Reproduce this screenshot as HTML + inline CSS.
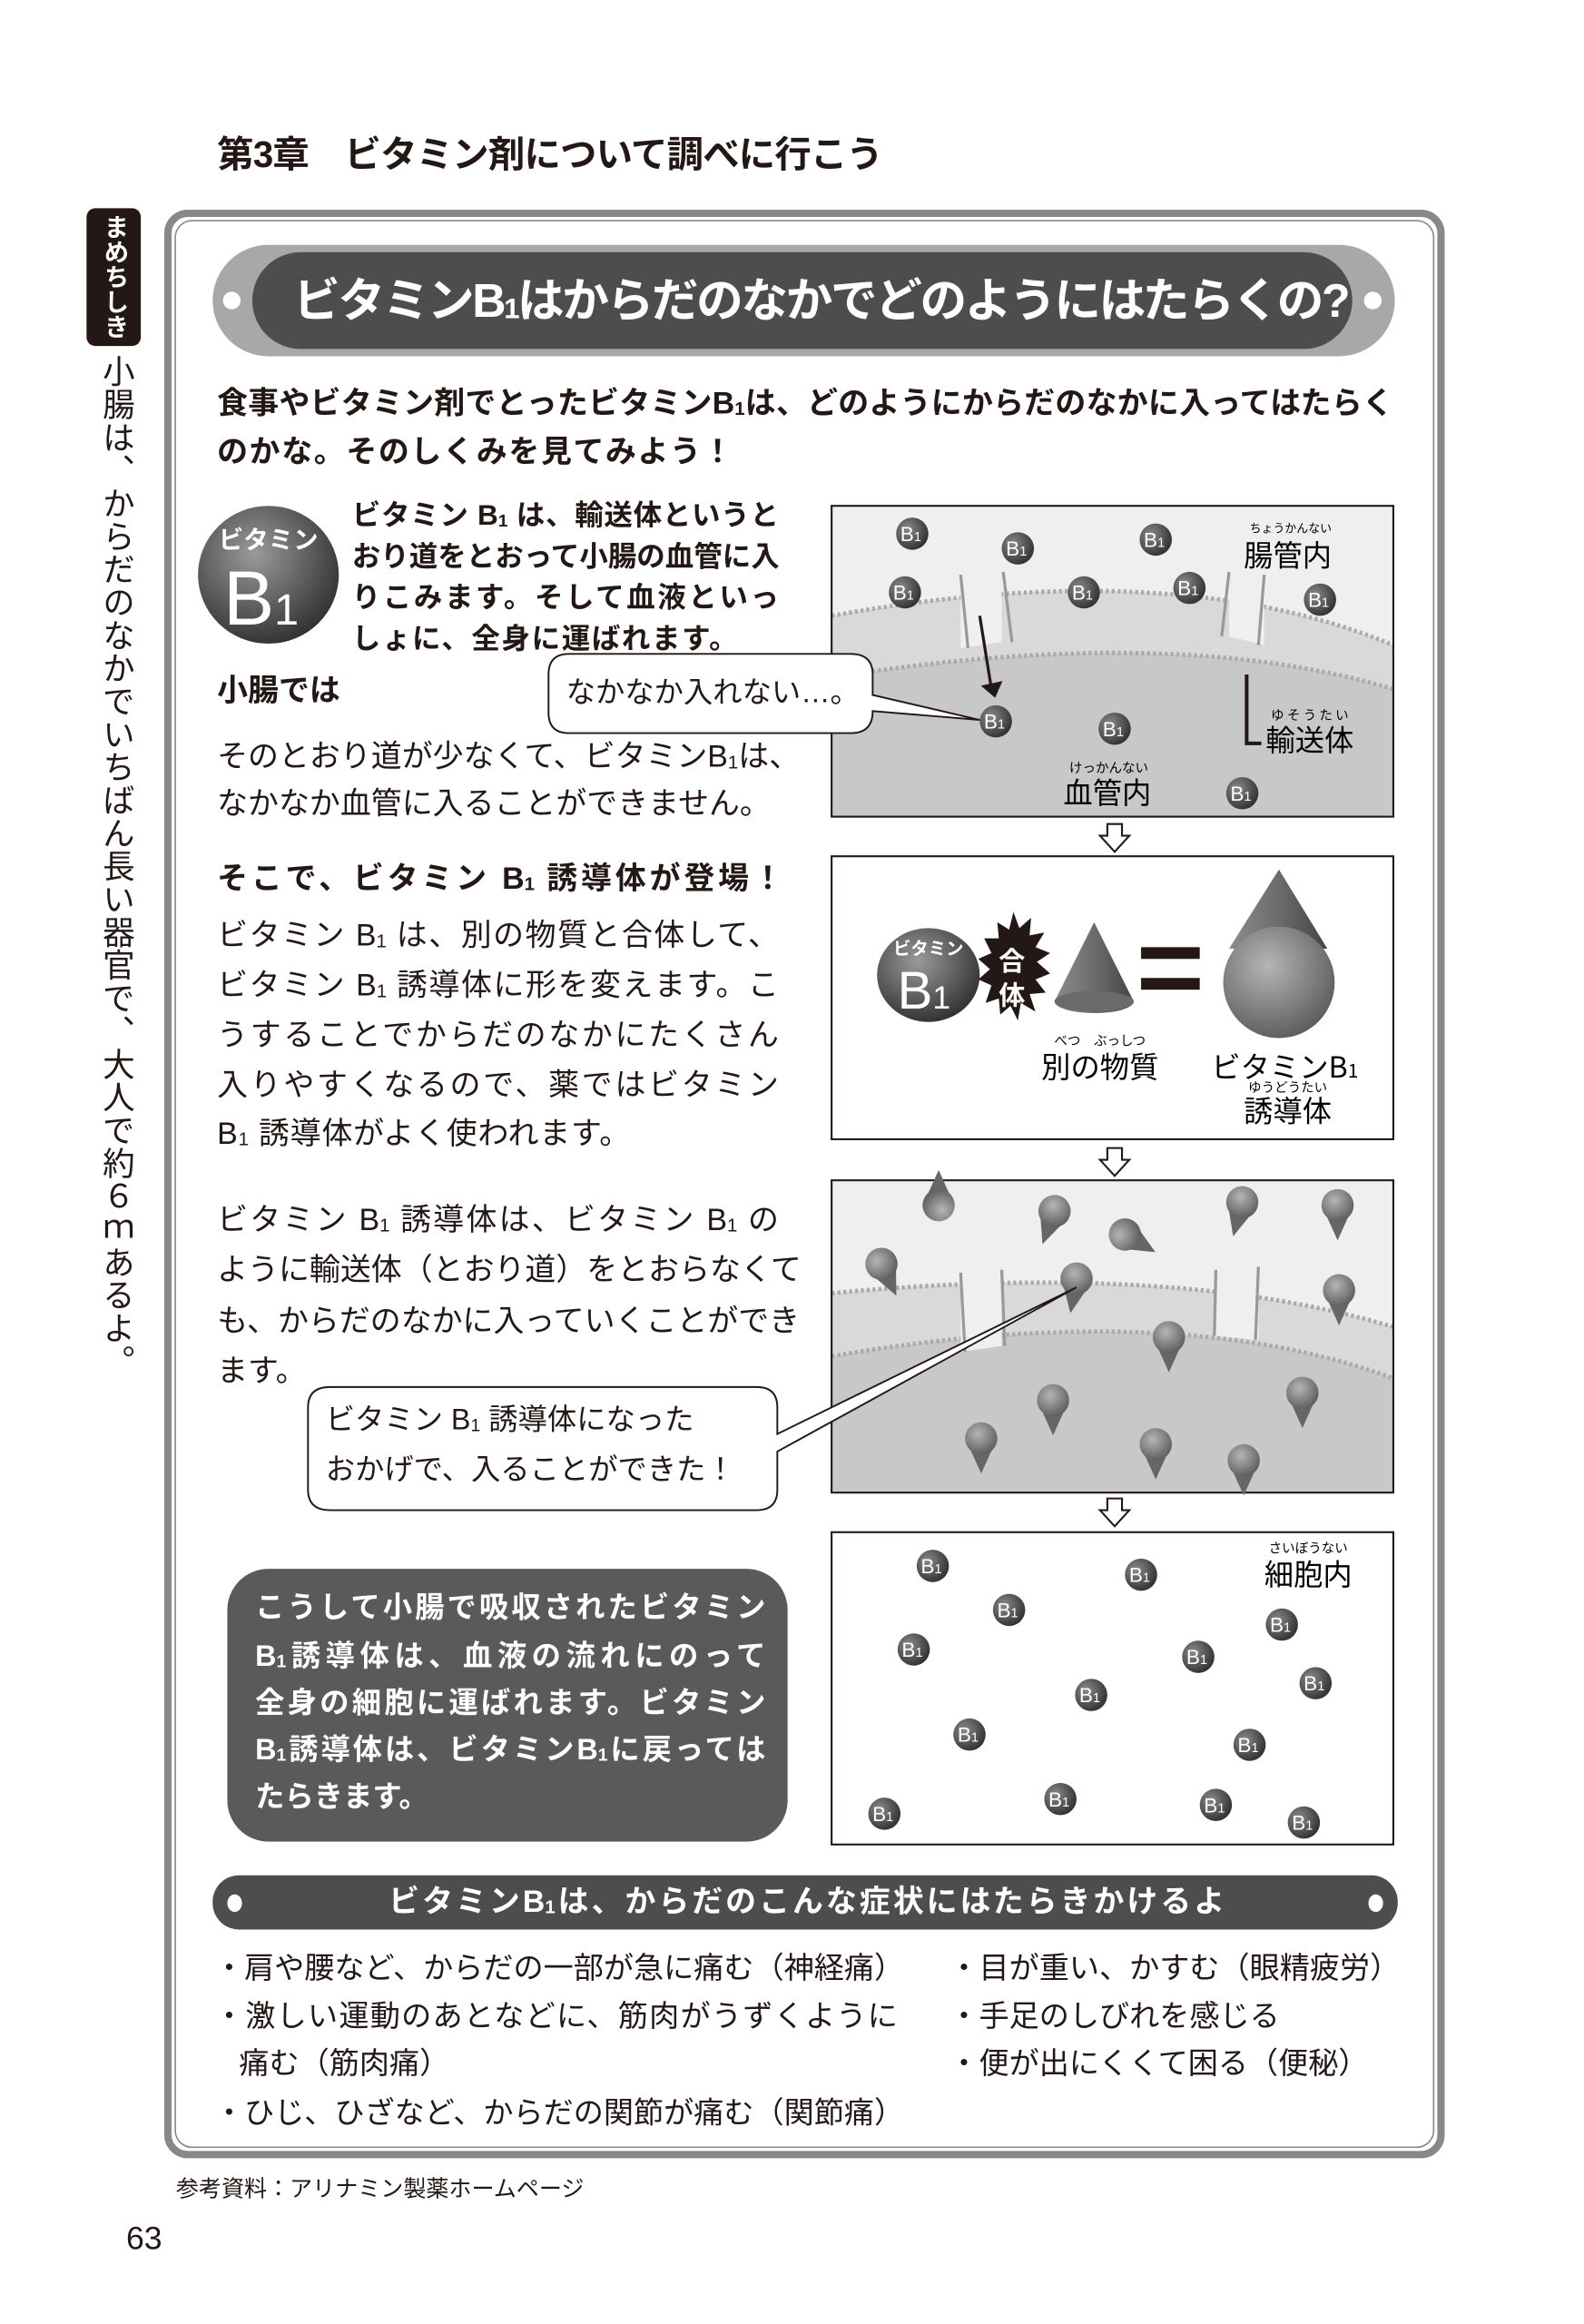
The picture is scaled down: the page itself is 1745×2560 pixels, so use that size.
<!DOCTYPE html>
<html><head><meta charset="utf-8">
<style>
html,body{margin:0;padding:0;background:#fff;}
body{width:1745px;height:2560px;overflow:hidden;position:relative;}
#s{position:absolute;left:0;top:0;width:1080px;height:1585px;transform:scale(1.61574,1.6151);transform-origin:0 0;font-family:"Liberation Sans","Noto Sans CJK JP",sans-serif;color:#231815;}
.a{position:absolute;white-space:nowrap;}
.j{text-align:justify;text-align-last:justify;white-space:nowrap;overflow:visible;}
.b{font-weight:bold;}
.r{font-size:21px;line-height:34px;}
.w{color:#fff;}
sub{font-size:60%;vertical-align:-1px;}
</style></head><body><div id="s">

<!-- header -->
<div class="a b" style="left:148px;top:88px;font-size:25px;line-height:36px;letter-spacing:-0.5px;">第3章　ビタミン剤について調べに行こう</div>

<!-- side tab -->
<div class="a" style="left:59px;top:142px;width:37px;height:94px;background:#231815;border-radius:6px;"></div>
<div class="a w b" style="left:59px;top:146px;width:37px;height:88px;writing-mode:vertical-rl;font-size:17px;line-height:37px;letter-spacing:0px;">まめちしき</div>
<div class="a" style="left:62px;top:242px;width:34px;writing-mode:vertical-rl;font-size:22px;line-height:34px;letter-spacing:0.5px;">小腸は、からだのなかでいちばん長い器官で、大人で約６ｍあるよ。</div>

<!-- main box -->
<div class="a" style="left:112px;top:143px;width:873px;height:1329px;border:5px solid #888;border-radius:16px;box-sizing:border-box;"></div>
<div class="a" style="left:119px;top:150px;width:859px;height:1315px;border:1.5px solid #888;border-radius:12px;box-sizing:border-box;"></div>

<!-- title pill -->
<div class="a" style="left:145px;top:167px;width:806px;height:76px;background:#a8a8a8;border-radius:38px;"></div>
<div class="a" style="left:172px;top:172px;width:750px;height:66px;background:#4d4d4d;border-radius:33px;"></div>
<div class="a" style="left:152px;top:199px;width:12px;height:12px;background:#fff;border-radius:50%;"></div>
<div class="a" style="left:930px;top:199px;width:12px;height:12px;background:#fff;border-radius:50%;"></div>
<div class="a w b" style="left:200px;top:182px;width:698px;font-size:32px;line-height:46px;letter-spacing:-1.5px;text-align:center;">ビタミンB<sub>1</sub>はからだのなかでどのようにはたらくの?</div>

<!-- intro -->
<div class="a b j" style="left:148px;top:259px;width:802px;font-size:21px;line-height:34px;">食事やビタミン剤でとったビタミンB<sub>1</sub>は、どのようにからだのなかに入ってはたらく</div>
<div class="a b" style="left:148px;top:292px;font-size:21px;line-height:34px;letter-spacing:1px;">のかな。そのしくみを見てみよう！</div>

<!-- B1 icon -->
<svg class="a" style="left:130px;top:340px" width="110" height="105">
<defs>
<radialGradient id="bg" cx="0.4" cy="0.35" r="0.7"><stop offset="0" stop-color="#9a9a9a"/><stop offset="1" stop-color="#2e2e2e"/></radialGradient>
</defs>
<ellipse cx="53" cy="52" rx="48" ry="47" fill="url(#bg)"/>
<text x="53" y="34" font-size="17" font-weight="bold" fill="#fff" text-anchor="middle" font-family="Liberation Sans,Noto Sans CJK JP,sans-serif">ビタミン</text>
<text x="48" y="86" font-size="52" fill="#fff" text-anchor="middle" font-family="Liberation Sans,sans-serif">B<tspan font-size="30">1</tspan></text>
</svg>
<div class="a b j" style="left:240px;top:335px;width:291px;font-size:19.5px;line-height:34px;">ビタミン B<sub>1</sub> は、輸送体というと</div>
<div class="a b j" style="left:240px;top:363px;width:291px;font-size:19.5px;line-height:34px;">おり道をとおって小腸の血管に入</div>
<div class="a b j" style="left:240px;top:391px;width:291px;font-size:19.5px;line-height:34px;">りこみます。そして血液といっ</div>
<div class="a b" style="left:240px;top:419px;font-size:19.5px;line-height:34px;letter-spacing:1px;">しょに、全身に運ばれます。</div>

<div class="a b" style="left:148px;top:455px;font-size:21px;line-height:34px;">小腸では</div>
<div class="a r j" style="left:148px;top:500px;width:382px;">そのとおり道が少なくて、ビタミンB<sub>1</sub>は、</div>
<div class="a r j" style="left:148px;top:532px;width:376px;">なかなか血管に入ることができません。</div>

<div class="a b j" style="left:148px;top:583px;width:386px;font-size:21px;line-height:34px;">そこで、ビタミン B<sub>1</sub> 誘導体が登場！</div>
<div class="a r j" style="left:148px;top:622px;width:383px;">ビタミン B<sub>1</sub> は、別の物質と合体して、</div>
<div class="a r j" style="left:148px;top:656px;width:383px;">ビタミン B<sub>1</sub> 誘導体に形を変えます。こ</div>
<div class="a r j" style="left:148px;top:690px;width:383px;">うすることでからだのなかにたくさん</div>
<div class="a r j" style="left:148px;top:724px;width:383px;">入りやすくなるので、薬ではビタミン</div>
<div class="a r" style="left:148px;top:757px;letter-spacing:0.5px;">B<sub>1</sub> 誘導体がよく使われます。</div>

<div class="a r j" style="left:148px;top:816px;width:383px;">ビタミン B<sub>1</sub> 誘導体は、ビタミン B<sub>1</sub> の</div>
<div class="a r j" style="left:148px;top:850px;width:383px;">ように輸送体（とおり道）をとおらなくて</div>
<div class="a r j" style="left:148px;top:885px;width:383px;">も、からだのなかに入っていくことができ</div>
<div class="a r" style="left:148px;top:919px;">ます。</div>

<!-- panels svg -->
<svg class="a" style="left:0;top:0" width="1080" height="1585">
<defs>
<radialGradient id="sb" cx="0.35" cy="0.35" r="0.75"><stop offset="0" stop-color="#8a8a8a"/><stop offset="1" stop-color="#2a2a2a"/></radialGradient>
<radialGradient id="dg" cx="0.4" cy="0.35" r="0.7"><stop offset="0" stop-color="#b5b5b5"/><stop offset="1" stop-color="#5a5a5a"/></radialGradient>
<linearGradient id="cg" x1="0" x2="1"><stop offset="0" stop-color="#8c8c8c"/><stop offset="0.5" stop-color="#6c6c6c"/><stop offset="1" stop-color="#444"/></linearGradient>
<g id="b1"><circle r="11" fill="url(#sb)"/><text x="-1" y="5" font-size="14" fill="#fff" text-anchor="middle" font-family="Liberation Sans,sans-serif">B<tspan font-size="9">1</tspan></text></g>
<g id="dr"><path d="M-9,4 L0,24 L9,4 Z" fill="#666"/><circle r="11" fill="url(#dg)"/></g>
<g id="arr"><path d="M-5,-9 L5,-9 L5,-1 L10,-1 L0,10 L-10,-1 L-5,-1 Z" fill="#fff" stroke="#231815" stroke-width="1.3"/></g>
</defs>

<!-- panel 1 -->
<rect x="567" y="345" width="383" height="212" fill="#c8c8c8"/>
<path d="M567,345 H950 V440 Q800,378 567,420 Z" fill="#efefef"/>
<path d="M567,420 Q800,378 950,440 L950,470 Q800,425 567,462 Z" fill="#d9d9d9"/>
<path d="M567,420 Q800,378 950,440" fill="none" stroke="#aaa" stroke-width="3" stroke-dasharray="2 2"/>
<path d="M567,462 Q800,425 950,470" fill="none" stroke="#aaa" stroke-width="3" stroke-dasharray="2 2"/>
<path d="M655,397 V442 L683,438 V395 Z" fill="#efefef"/>
<path d="M838,394 V434 L862,440 V395 Z" fill="#efefef"/>
<path d="M655,392 L660,442 M684,390 L690,438 M838,390 L833,434 M862,392 L858,440" stroke="#999" stroke-width="2"/>
<rect x="567" y="345" width="383" height="212" fill="none" stroke="#231815" stroke-width="1.3"/>
<use href="#b1" x="622" y="364"/><use href="#b1" x="694" y="374"/><use href="#b1" x="788" y="368"/>
<use href="#b1" x="617" y="404"/><use href="#b1" x="739" y="404"/><use href="#b1" x="811" y="401"/><use href="#b1" x="900" y="409"/>
<use href="#b1" x="679" y="492"/><use href="#b1" x="760" y="497"/><use href="#b1" x="847" y="541"/>
<path d="M668,420 L676,470" stroke="#231815" stroke-width="2"/><path d="M669,467 L684,465 L678,476 Z" fill="#231815" transform="rotate(-5 677 470)"/>
<path d="M850,460 V507 H860" fill="none" stroke="#231815" stroke-width="2.5"/>
<text x="880" y="363" font-size="8" text-anchor="middle" font-family="Noto Sans CJK JP,sans-serif">ちょうかんない</text>
<text x="878" y="386" font-size="20" text-anchor="middle" font-family="Noto Sans CJK JP,sans-serif">腸管内</text>
<text x="893" y="491" font-size="9" text-anchor="middle" font-family="Noto Sans CJK JP,sans-serif">ゆ そ う た い</text>
<text x="893" y="512" font-size="20" text-anchor="middle" font-family="Noto Sans CJK JP,sans-serif">輸送体</text>
<text x="756" y="527" font-size="9" text-anchor="middle" font-family="Noto Sans CJK JP,sans-serif">けっかんない</text>
<text x="755" y="548" font-size="20" text-anchor="middle" font-family="Noto Sans CJK JP,sans-serif">血管内</text>

<use href="#arr" x="760" y="571"/>

<!-- panel 2 -->
<rect x="567" y="584" width="383" height="193" fill="#fff" stroke="#231815" stroke-width="1.3"/>
<ellipse cx="633" cy="665" rx="35" ry="32" fill="url(#bg)"/>
<text x="633" y="651" font-size="12" font-weight="bold" fill="#fff" text-anchor="middle" font-family="Noto Sans CJK JP,sans-serif">ビタミン</text>
<text x="630" y="688" font-size="36" fill="#fff" text-anchor="middle" font-family="Liberation Sans,sans-serif">B<tspan font-size="22">1</tspan></text>
<polygon points="691,622 695,633 703,626 702,638 712,636 706,646 716,650 707,656 716,664 706,668 713,677 702,678 706,690 696,684 694,696 689,686 682,692 681,681 672,684 676,672 667,668 675,661 667,654 676,650 671,640 681,640 680,629 688,634" fill="#231815"/>
<text x="690" y="662" font-size="18" font-weight="bold" fill="#fff" text-anchor="middle" font-family="Noto Sans CJK JP,sans-serif">合</text>
<text x="690" y="685" font-size="18" font-weight="bold" fill="#fff" text-anchor="middle" font-family="Noto Sans CJK JP,sans-serif">体</text>
<path d="M746,629 L719,683 A27,8 0 0 0 773,683 Z" fill="url(#cg)"/>
<ellipse cx="746" cy="683" rx="27" ry="7" fill="#6a6a6a"/>
<rect x="778" y="646" width="40" height="8" fill="#231815"/><rect x="778" y="667" width="40" height="8" fill="#231815"/>
<path d="M872,593 L838,647 L905,647 Z" fill="url(#cg)"/>
<circle cx="872" cy="670" r="38" fill="url(#dg)"/>
<text x="750" y="713" font-size="9" text-anchor="middle" font-family="Noto Sans CJK JP,sans-serif">べつ　ぶっしつ</text>
<text x="750" y="735" font-size="20" text-anchor="middle" font-family="Noto Sans CJK JP,sans-serif">別の物質</text>
<text x="876" y="735" font-size="20" text-anchor="middle" font-family="Noto Sans CJK JP,sans-serif">ビタミンB<tspan font-size="13">1</tspan></text>
<text x="878" y="745" font-size="9" text-anchor="middle" font-family="Noto Sans CJK JP,sans-serif">ゆうどうたい</text>
<text x="878" y="765" font-size="20" text-anchor="middle" font-family="Noto Sans CJK JP,sans-serif">誘導体</text>

<use href="#arr" x="760" y="792"/>

<!-- panel 3 -->
<rect x="567" y="805" width="383" height="213" fill="#c8c8c8"/>
<path d="M567,805 H950 V905 Q800,860 567,882 Z" fill="#efefef"/>
<path d="M567,882 Q800,860 950,905 L950,940 Q800,885 567,925 Z" fill="#d9d9d9"/>
<path d="M567,882 Q800,860 950,905" fill="none" stroke="#aaa" stroke-width="3" stroke-dasharray="2 2"/>
<path d="M567,925 Q800,885 950,940" fill="none" stroke="#aaa" stroke-width="3" stroke-dasharray="2 2"/>
<path d="M655,870 V922 L683,918 V870 Z" fill="#efefef"/>
<path d="M829,868 V911 L858,914 V866 Z" fill="#efefef"/>
<path d="M655,868 L658,922 M683,866 L685,918 M829,866 L828,911 M858,864 L856,914" stroke="#999" stroke-width="2"/>
<rect x="567" y="805" width="383" height="213" fill="none" stroke="#231815" stroke-width="1.3"/>
<use href="#dr" x="640" y="822" transform="rotate(180 640 822)"/>
<use href="#dr" x="719" y="826" transform="rotate(20 719 826)"/>
<use href="#dr" x="767" y="842" transform="rotate(-60 767 842)"/>
<use href="#dr" x="847" y="820" transform="rotate(15 847 820)"/>
<use href="#dr" x="912" y="822" />
<use href="#dr" x="601" y="862" transform="rotate(-25 601 862)"/>
<use href="#dr" x="734" y="872" transform="rotate(10 734 872)"/>
<use href="#dr" x="913" y="880"/>
<use href="#dr" x="797" y="912"/>
<use href="#dr" x="718" y="955"/>
<use href="#dr" x="888" y="950"/>
<use href="#dr" x="669" y="981"/>
<use href="#dr" x="788" y="985"/>
<use href="#dr" x="848" y="996"/>

<use href="#arr" x="760" y="1031"/>

<!-- panel 4 -->
<rect x="567" y="1045" width="383" height="213" fill="#fff" stroke="#231815" stroke-width="1.3"/>
<use href="#b1" x="636" y="1068"/><use href="#b1" x="778" y="1074"/><use href="#b1" x="688" y="1098"/>
<use href="#b1" x="874" y="1108"/><use href="#b1" x="623" y="1125"/><use href="#b1" x="817" y="1130"/>
<use href="#b1" x="897" y="1148"/><use href="#b1" x="744" y="1156"/><use href="#b1" x="661" y="1183"/>
<use href="#b1" x="852" y="1190"/><use href="#b1" x="723" y="1227"/><use href="#b1" x="603" y="1237"/>
<use href="#b1" x="829" y="1231"/><use href="#b1" x="889" y="1243"/>
<text x="892" y="1059" font-size="9" text-anchor="middle" font-family="Noto Sans CJK JP,sans-serif">さいぼうない</text>
<text x="892" y="1081" font-size="20" text-anchor="middle" font-family="Noto Sans CJK JP,sans-serif">細胞内</text>

<!-- bubble 1 -->
<path d="M388,446 H580 Q595,446 595,460 V474 L668,491 L595,485 Q595,500 580,500 H388 Q374,500 374,486 V460 Q374,446 388,446 Z" fill="#fff" stroke="#231815" stroke-width="1.2"/>
<!-- bubble 2 -->
<path d="M225,946 H516 Q530,946 530,960 V978 L734,878 L530,990 V1016 Q530,1030 516,1030 H225 Q210,1030 210,1016 V960 Q210,946 225,946 Z" fill="#fff" stroke="#231815" stroke-width="1.2"/>

<!-- dark box -->
<rect x="155" y="1070" width="382" height="186" rx="28" fill="#5a5a5a"/>

<!-- bottom pill -->
<rect x="145" y="1279" width="808" height="37" rx="18" fill="#4d4d4d"/>
<ellipse cx="160" cy="1298" rx="5" ry="6" fill="#fff"/><ellipse cx="938" cy="1298" rx="5" ry="6" fill="#fff"/>
</svg>

<div class="a" style="left:386px;top:456px;font-size:20px;line-height:34px;">なかなか入れない…。</div>
<div class="a" style="left:222px;top:952px;font-size:20px;line-height:34px;">ビタミン B<sub>1</sub> 誘導体になった</div>
<div class="a" style="left:222px;top:986px;font-size:20px;line-height:34px;">おかげで、入ることができた！</div>

<div class="a w b j" style="left:174px;top:1080px;width:348px;font-size:20px;line-height:34px;">こうして小腸で吸収されたビタミン</div>
<div class="a w b j" style="left:174px;top:1113px;width:348px;font-size:20px;line-height:34px;">B<sub>1</sub>誘導体は、血液の流れにのって</div>
<div class="a w b j" style="left:174px;top:1145px;width:348px;font-size:20px;line-height:34px;">全身の細胞に運ばれます。ビタミン</div>
<div class="a w b j" style="left:174px;top:1177px;width:348px;font-size:20px;line-height:34px;">B<sub>1</sub>誘導体は、ビタミンB<sub>1</sub>に戻っては</div>
<div class="a w b" style="left:174px;top:1209px;font-size:20px;line-height:34px;">たらきます。</div>

<div class="a w b j" style="left:265px;top:1282px;width:570px;font-size:21px;line-height:32px;">ビタミンB<sub>1</sub>は、からだのこんな症状にはたらきかけるよ</div>

<div class="a j" style="left:146px;top:1326px;width:466px;font-size:20.5px;line-height:34px;">・肩や腰など、からだの一部が急に痛む（神経痛）</div>
<div class="a j" style="left:146px;top:1359px;width:466px;font-size:20.5px;line-height:34px;">・激しい運動のあとなどに、筋肉がうずくように</div>
<div class="a" style="left:163px;top:1391px;font-size:20.5px;line-height:34px;">痛む（筋肉痛）</div>
<div class="a j" style="left:146px;top:1425px;width:466px;font-size:20.5px;line-height:34px;">・ひじ、ひざなど、からだの関節が痛む（関節痛）</div>
<div class="a j" style="left:647px;top:1326px;width:296px;font-size:20.5px;line-height:34px;">・目が重い、かすむ（眼精疲労）</div>
<div class="a" style="left:647px;top:1359px;font-size:20.5px;line-height:34px;">・手足のしびれを感じる</div>
<div class="a" style="left:647px;top:1391px;font-size:20.5px;line-height:34px;">・便が出にくくて困る（便秘）</div>

<div class="a" style="left:120px;top:1481px;font-size:15.5px;line-height:26px;">参考資料：アリナミン製薬ホームページ</div>
<div class="a" style="left:86px;top:1512px;font-size:22px;line-height:30px;">63</div>

</div></body></html>
